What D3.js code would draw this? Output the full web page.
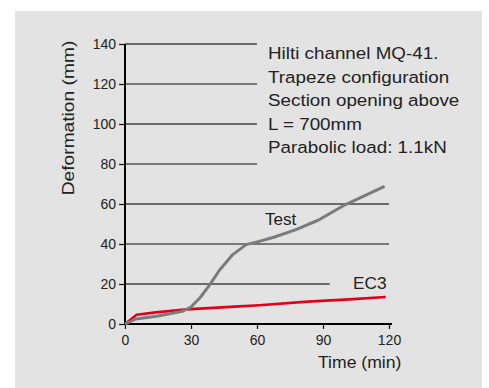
<!DOCTYPE html>
<html>
<head>
<meta charset="utf-8">
<script src="https://cdn.jsdelivr.net/npm/d3@7"></script>
<style>
  body { margin: 0; background: #fff; }
  svg text { font-family: "Liberation Sans", Arial, sans-serif; fill: #222; }
</style>
</head>
<body>
<div id="chart"></div>
<script>
// Data
const testTime = [0, 5, 15, 26, 30, 34, 38.6, 43, 49, 55, 61, 68, 78, 88, 100, 118];
const testDef  = [0, 2.5, 4, 6.3, 8.5, 13, 19.7, 27, 34.7, 39.7, 41.3, 43.5, 47.3, 52, 59.6, 68.8];

const ec3Time = [0, 5.3, 14, 28, 52, 61, 83, 102, 118.5];
const ec3Def  = [0, 4.6, 5.8, 7.3, 8.8, 9.4, 11.2, 12.3, 13.5];

const xTicks = [0, 30, 60, 90, 120];
const yTicks = [0, 20, 40, 60, 80, 100, 120, 140];

const infoLines = [
  "Hilti channel MQ-41.",
  "Trapeze configuration",
  "Section opening above",
  "L = 700mm",
  "Parabolic load: 1.1kN"
];

// Layout
const W = 489, H = 388;
const margin = { top: 44, left: 125 };
const width = 264;
const height = 280;

const svg = d3.select("#chart")
  .append("svg")
    .attr("width", W)
    .attr("height", H);

// gray panel
svg.append("rect")
  .attr("x", 15).attr("y", 11)
  .attr("width", 467).attr("height", H - 11)
  .attr("fill", "#e3e3e3");

const g = svg.append("g")
  .attr("transform", `translate(${margin.left},${margin.top})`);

const x = d3.scaleLinear().domain([0, 120]).range([0, width]);
const y = d3.scaleLinear().domain([0, 140]).range([height, 0]);

// text helper: the original type is a bit wider than Liberation Sans
function label(parent, tx, ty, str, size, sx, rot) {
  return parent.append("text")
    .attr("transform", `translate(${tx},${ty})` + (rot ? ` rotate(${rot})` : "") + ` scale(${sx},1)`)
    .style("font-size", size + "px")
    .text(str);
}

// horizontal grid lines (some stop short to leave room for text)
const gridEnd = v => (v >= 80 ? 60 : v === 20 ? 93 : 120);
g.selectAll(".grid")
  .data(yTicks.slice(1))
  .join("line")
    .attr("x1", 0)
    .attr("x2", d => x(gridEnd(d)))
    .attr("y1", d => y(d))
    .attr("y2", d => y(d))
    .attr("stroke", (d, i) => i % 2 === 0 ? "#6a6a6a" : "#111")
    .attr("stroke-width", (d, i) => i % 2 === 0 ? 1.8 : 1.1);

// y axis
const yAxis = g.append("g")
  .call(d3.axisLeft(y).tickValues(yTicks).tickSize(6).tickPadding(3));
yAxis.select(".domain").remove();
yAxis.selectAll(".tick line").attr("stroke", "#111").attr("stroke-width", 1.2);
yAxis.selectAll("text").style("font-size", "14px").attr("fill", "#333");

g.append("line")
  .attr("x1", 0).attr("x2", 0)
  .attr("y1", 0).attr("y2", height)
  .attr("stroke", "#000").attr("stroke-width", 2);

// x axis
const xAxis = g.append("g")
  .attr("transform", `translate(0,${height})`)
  .call(d3.axisBottom(x).tickValues(xTicks).tickSize(5).tickPadding(6));
xAxis.select(".domain").remove();
xAxis.selectAll(".tick line").attr("stroke", "#111").attr("stroke-width", 1.2);
xAxis.selectAll("text").style("font-size", "14px").attr("fill", "#333");

g.append("line")
  .attr("x1", -1).attr("x2", width + 3)
  .attr("y1", height).attr("y2", height)
  .attr("stroke", "#000").attr("stroke-width", 2.2);

// axis labels
label(svg, 74, 118, "Deformation (mm)", 16, 1.2, -90)
  .style("text-anchor", "middle");

label(svg, 318, 368, "Time (min)", 16, 1.1);

// series
const line = d3.line()
  .x(d => x(d[0]))
  .y(d => y(d[1]));

g.append("path")
  .datum(d3.zip(ec3Time, ec3Def))
  .attr("fill", "none")
  .attr("stroke", "#e2001a")
  .attr("stroke-width", 2.6)
  .attr("stroke-linejoin", "round")
  .attr("d", line);

g.append("path")
  .datum(d3.zip(testTime, testDef))
  .attr("fill", "none")
  .attr("stroke", "#7b7b7b")
  .attr("stroke-width", 3)
  .attr("stroke-linejoin", "round")
  .attr("d", line);

// series labels
label(svg, 265, 225, "Test", 16, 1.07);
label(svg, 353, 289, "EC3", 16, 1.08);

// info text
infoLines.forEach((d, i) => {
  label(svg, 268, 59.3 + i * 23.5, d, 16.5, 1.14);
});
</script>
</body>
</html>
